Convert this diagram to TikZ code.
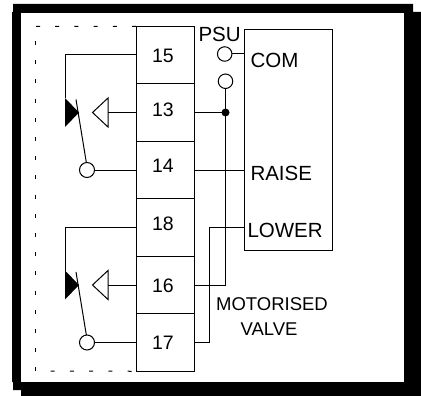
\documentclass[tikz,border=0pt]{standalone}
\usepackage{fontspec}
\setmainfont{Liberation Sans}
\usetikzlibrary{positioning}

\begin{document}
\begin{tikzpicture}[%
  x=1pt, y=-1pt, line width=1pt,
  terminal/.style={draw, minimum width=58pt, minimum height=57.5pt, outer sep=0pt, inner sep=0pt},
  number/.style={anchor=base, inner sep=0pt, font=\fontsize{19.5}{20}\selectfont},
  contact/.style={draw, circle, fill=white, minimum size=15pt, inner sep=0pt, outer sep=0pt},
  supply/.style={contact, minimum size=14.5pt},
  junction/.style={circle, fill=black, minimum size=8pt, inner sep=0pt, outer sep=0pt},
  boxlabel/.style={anchor=base west, inner sep=0pt, font=\fontsize{20.5}{21}\selectfont},
  valvelabel/.style={anchor=base, inner sep=0pt, font=\fontsize{18.5}{19}\selectfont},
  limit/.style={dash pattern=on 4pt off 15.2pt}]
  \useasboundingbox (0,0) rectangle (421,396);
  % frame and shadow
  \fill[black] (13,4) -- (413,4) -- (413,12) -- (421,12) -- (421,396) -- (21,396) -- (21,390)
    -- (13,390) -- (13,382) -- (12,382) -- (12,12) -- (13,12) -- cycle;
  \fill[white] (21,13) rectangle (404,382);
  % terminals
  \node [terminal] (t15) at (165,55) {};
  \node [terminal, below=0pt of t15] (t13) {};
  \node [terminal, below=0pt of t13] (t14) {};
  \node [terminal, below=0pt of t14] (t18) {};
  \node [terminal, below=0pt of t18] (t16) {};
  \node [terminal, below=0pt of t16] (t17) {};
  \foreach \term/\drop in {15/8, 13/4.5, 14/2, 18/2.5, 16/7, 17/6.5}
    \node [number] (n\term) at ([xshift=-2pt, yshift=-\drop pt]t\term) {\term};
  % contacts
  \foreach \upper/\middle/\lower in {15/13/14, 18/16/17} {
    \node [contact, left=41.5pt of t\lower.west] (c\lower) {};
    \coordinate [xshift=-28pt] (open\middle) at (t\middle.west);
    \coordinate [xshift=-71pt] (solid\middle) at (t\middle.west);
    \draw (t\lower.west) -- (c\lower);
    \draw (t\middle.west) -- (open\middle);
    \draw (t\upper.west) -| ([yshift=14.5pt]solid\middle);
    \draw (open\middle) ++(0,-14.5) -- ++(0,29) -- ++(-15.5,-14.5) -- cycle;
    \fill (solid\middle) ++(0,-14.5) -- ++(0,29) -- ++(14,-14.5) -- cycle;
    \draw ([xshift=11pt, yshift=13pt]solid\middle) -- (c\lower.95);
  }
  % actuator
  \node [draw, minimum width=88pt, minimum height=220.5pt, anchor=north west, outer sep=0pt] (actuator) at (244.3,29.5) {};
  \node [junction, right=27.5pt of t13.east] (jn13) {};
  \node [supply, above=20pt of jn13] (psuline) {};
  \node [supply] (psucom) at (224.7,54) {};
  \coordinate [xshift=15pt] (lowerturn) at (t18.east);
  \draw (psucom) -- (psucom -| actuator.west);
  \draw (t13.east) -- (jn13);
  \draw (psuline) |- (t16.east);
  \draw (t14.east) -- (t14.east -| actuator.west);
  \draw (t17.east) -| (lowerturn) -- (lowerturn -| actuator.west);
  % labels
  \node [boxlabel] (psu) at (198,42) {PSU};
  \node [boxlabel] (com) at (250,67.5) {COM};
  \node [boxlabel] (raise) at (250,180) {RAISE};
  \node [boxlabel] (lowerlabel) at (247,237) {LOWER};
  \node [valvelabel] (motorised) at (272,310) {MOTORISED};
  \node [valvelabel] (valve) at (269,335) {VALVE};
  % enclosure limit
  \coordinate (limtl) at (35.5,26.5);
  \coordinate (limlt) at (35.5,41);
  \coordinate (limbl) at (35.5,371);
  \coordinate (limbr) at (50,371.2);
  \draw [limit] (t15.north west) -- (limtl);
  \draw [limit] (limlt) -- (limbl);
  \draw [limit] ([xshift=-4.5pt]t17.south west) -- (limbr);
\end{tikzpicture}
\end{document}
